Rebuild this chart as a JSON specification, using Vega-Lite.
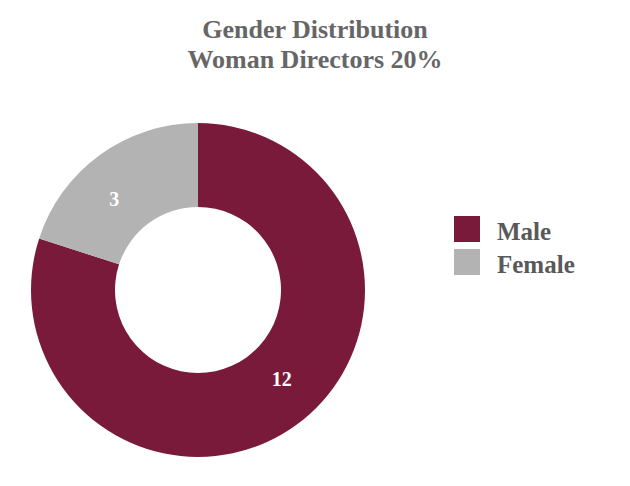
{
  "$schema": "https://vega.github.io/schema/vega-lite/v6.json",
  "width": 334,
  "height": 334,
  "autosize": {"type": "none"},
  "padding": {"left": 31, "top": 123, "right": 265, "bottom": 29},
  "background": "white",
  "title": {
    "text": ["Gender Distribution", "Woman Directors 20%"],
    "font": "Liberation Serif",
    "fontSize": 26,
    "fontWeight": "bold",
    "color": "#666666",
    "anchor": "middle",
    "dx": 117,
    "offset": 50,
    "lineHeight": 30
  },
  "data": {
    "values": [
      {"gender": "Male", "count": 12},
      {"gender": "Female", "count": 3}
    ]
  },
  "encoding": {
    "theta": {"field": "count", "type": "quantitative", "stack": true},
    "order": {"field": "gender", "sort": "descending"},
    "color": {
      "field": "gender",
      "type": "nominal",
      "scale": {"domain": ["Male", "Female"], "range": ["#7a1a3a", "#b3b3b3"]},
      "legend": {
        "title": null,
        "orient": "none",
        "legendX": 423,
        "legendY": 93,
        "symbolType": "square",
        "symbolSize": 676,
        "symbolStrokeWidth": 0,
        "symbolOpacity": 1,
        "labelFont": "Liberation Serif",
        "labelFontSize": 25,
        "labelFontWeight": "bold",
        "labelColor": "#595959",
        "labelOffset": 17,
        "rowPadding": 4,
        "encode": {"labels": {"update": {"dy": {"value": 3}}}}
      }
    }
  },
  "layer": [
    {"mark": {"type": "arc", "innerRadius": 83}},
    {
      "mark": {"type": "text", "radius": 123, "thetaOffset": -0.12, "font": "Liberation Serif", "fontSize": 20, "fontWeight": "bold", "color": "white"},
      "encoding": {
        "text": {"field": "count", "type": "quantitative"},
        "color": {"value": "white"}
      }
    }
  ],
  "config": {"view": {"stroke": null}}
}
